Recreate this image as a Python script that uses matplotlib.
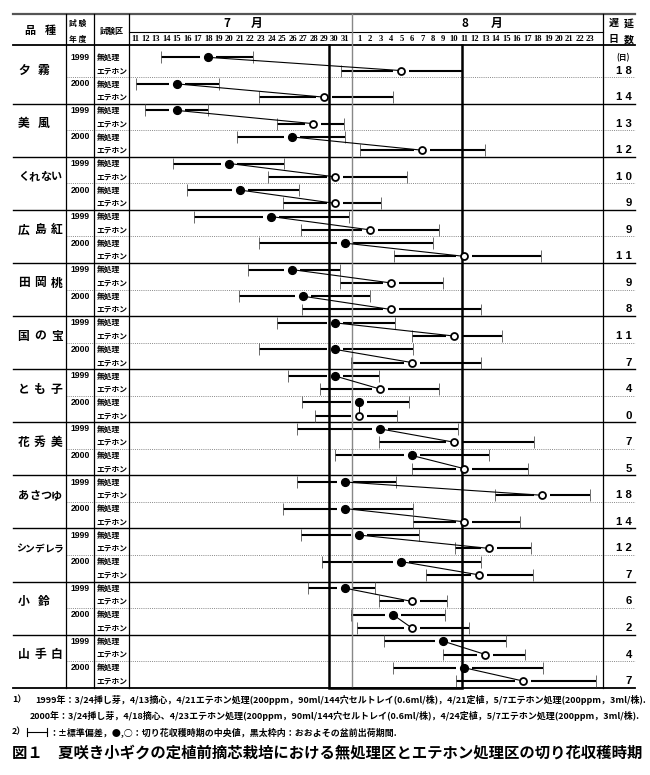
import numpy as np
import matplotlib
matplotlib.use('Agg')
import matplotlib.pyplot as plt

plt.rcParams['font.family'] = ['Noto Sans CJK JP', 'DejaVu Sans']

# ---------------- data ----------------
# season day: July d -> d, August d -> 31 + d
varieties = ['夕霧', '美風', 'くれない', '広島紅', '田岡桃', '国の宝', 'とも子',
             '花秀美', 'あさつゆ', 'シンデレラ', '小鈴', '山手白']
years = ['1999', '2000']
treatments = ['無処理', 'エテホン']

ctrl_low = [[13.5, 11.1], [12.0, 20.7], [14.65, 16.0], [16.6, 22.8], [21.8, 20.9],
            [24.5, 22.8], [25.6, 26.9], [26.4, 30.0], [26.4, 25.1], [26.8, 28.8],
            [27.5, 31.4], [34.3, 35.2]]
ctrl_med = [[18, 15], [15, 26], [20, 21], [24, 31], [26, 27], [30, 30], [30, 32],
            [34, 37], [31, 31], [32, 36], [31, 35.2], [40, 42]]
ctrl_high = [[22.2, 19.0], [18.0, 31.0], [25.2, 26.6], [31.25, 39.0], [30.5, 33.0],
             [35.4, 37.1], [33.9, 36.75], [41.4, 44.3], [35.5, 37.1], [37.7, 43.6],
             [33.5, 40.15], [46.0, 49.5]]
eth_low = [[30.6, 22.8], [24.5, 32.05], [23.7, 25.1], [26.8, 35.3], [30.5, 26.9],
           [37.0, 31.4], [28.65, 28.1], [33.9, 37.0], [44.9, 37.1], [41.1, 38.3],
           [33.9, 31.85], [40.0, 41.2]]
eth_med = [[36, 29], [28, 38], [30, 30], [33, 42], [35, 35], [41, 37], [34, 32],
           [41, 42], [49.4, 42], [44.3, 43.4], [37, 37], [44, 47.6]]
eth_high = [[41.8, 35.2], [30.9, 44.0], [36.55, 34.1], [39.6, 49.3], [40.0, 43.6],
            [45.6, 43.6], [39.6, 35.6], [48.6, 48.1], [54.0, 47.3], [48.3, 48.5],
            [40.3, 42.4], [47.8, 54.5]]
delay_days = [[18, 14], [13, 12], [10, 9], [9, 11], [9, 8], [11, 7], [4, 0],
              [7, 5], [18, 14], [12, 7], [6, 2], [4, 7]]

july_days = list(range(11, 32))
aug_days = list(range(1, 24))
obon_start, obon_end = 29.5, 41.8
month_sep = 31.5

fn1_num = '1）'
fn1 = '1999年：3/24挿し芽，4/13摘心，4/21エテホン処理(200ppm，90ml/144穴セルトレイ(0.6ml/株)，4/21定植，5/7エテホン処理(200ppm，3ml/株).'
fn2 = '2000年：3/24挿し芽，4/18摘心、4/23エテホン処理(200ppm，90ml/144穴セルトレイ(0.6ml/株)，4/24定植，5/7エテホン処理(200ppm，3ml/株).'
fn3_num = '2）'
fn3 = '：±標準偏差，●,○：切り花収穫時期の中央値，黒太枠内：おおよその盆前出荷期間.'
title = '図１　夏咲き小ギクの定植前摘芯栽培における無処理区とエテホン処理区の切り花収穫時期'

# ---------------- layout ----------------
W, H = 650, 775
fig = plt.figure(figsize=(W / 100, H / 100), dpi=100)
ov = fig.add_axes([0, 0, 1, 1])
ov.set_xlim(0, W)
ov.set_ylim(H, 0)
ov.axis('off')

TL, TR = 13, 635
C1, C2, C3, C4 = 65.7, 94.3, 129.3, 602.5
YT, YM, YH, YB = 14, 32.3, 45, 687.7
TOP_PAD = 0.43
ROW_PX = (YB - YH) / (48 + TOP_PAD)


def row_px(r):
    return YH + (r + TOP_PAD) * ROW_PX


GAP = 0.37


def fwd(v):
    v = np.asarray(v, float)
    return v + GAP * np.clip(v - 31, 0, 1)


def inv(x):
    x = np.asarray(x, float)
    return np.where(x <= 31, x, np.where(x <= 32 + GAP, 31 + (x - 31) / (1 + GAP), x - GAP))


ax = fig.add_axes([C3 / W, 1 - YB / H, (C4 - C3) / W, (YB - YH) / H])
ax.set_zorder(2)
ax.patch.set_visible(False)
ax.set_xscale('function', functions=(fwd, inv))
ax.set_xlim(10.46, 55.15)
ax.set_ylim(48, -TOP_PAD)
for s in ax.spines.values():
    s.set_visible(False)
ax.set_yticks([])
ticks = july_days + [31 + d for d in aug_days]
labels = [str(d) for d in july_days] + [str(d) for d in aug_days]
ax.xaxis.tick_top()
ax.set_xticks(ticks)
ax.set_xticklabels(labels, fontfamily='Liberation Serif', fontweight='bold', fontsize=6.2)
ax.tick_params(axis='x', length=0, pad=1.6)
ax.minorticks_off()

# table lines
ov.plot([TL, TR], [YT, YT], color='#555555', lw=1.6)
ov.plot([C3, C4], [YM, YM], color='black', lw=0.8)
ov.plot([TL, TR], [YH, YH], color='black', lw=1.3)
ov.plot([TL, TR], [YB, YB], color='black', lw=1.3)
for k in range(1, 12):
    y = row_px(4 * k)
    ov.plot([TL, TR], [y, y], color='black', lw=1.0)
for k in range(12):
    y = row_px(4 * k + 2)
    ov.plot([C1, TR], [y, y], color='#888888', lw=0.7, ls=(0, (1, 1.2)))
for x in [C1, C2, C3, C4]:
    ov.plot([x, x], [YT, YB], color='black', lw=0.9)

# month separator and Obon frame
ytop = (YT - YH) / ROW_PX - TOP_PAD
ax.plot([month_sep, month_sep], [48, ytop], color='#888888', lw=1.0, clip_on=False, zorder=4)
ax.plot([obon_start, obon_start, obon_end, obon_end], [-TOP_PAD, 48, 48, -TOP_PAD],
        color='black', lw=1.8, clip_on=False, zorder=4, solid_joinstyle='miter')

# header texts
bold = dict(fontweight='bold', ha='center', va='center')
ov.text(30, 30.5, '品', fontsize=8, **bold)
ov.text(50, 30.5, '種', fontsize=8, **bold)
ov.text(77.5, 23.5, '試 験', fontsize=5.6, **bold)
ov.text(77.5, 39.3, '年 度', fontsize=5.6, **bold)
ov.text(111.7, 31, '試験区', fontsize=5.8, **bold)
ov.text(226.7, 23.3, '7', fontsize=8.5, **bold)
ov.text(256.7, 23.3, '月', fontsize=8.5, **bold)
ov.text(465, 23.3, '8', fontsize=8.5, **bold)
ov.text(496.7, 23.3, '月', fontsize=8.5, **bold)
ov.text(613.5, 23.3, '遅', fontsize=7.2, **bold)
ov.text(628.5, 23.3, '延', fontsize=7.2, **bold)
ov.text(613.5, 39.3, '日', fontsize=7.2, **bold)
ov.text(628.5, 39.3, '数', fontsize=7.2, **bold)
ov.text(623.5, row_px(0.5), '(日)', fontsize=5.5, **bold)

# row texts
for k, name in enumerate(varieties):
    n = len(name)
    yname = row_px(4 * k + 1.5)
    if n == 2:
        xs = [24, 44]
        fs = 8.5
    else:
        right = 62 if n < 5 else 63
        left = 18 if n < 5 else 16
        cw = 11 if n < 5 else 9.3
        xs = [left + cw / 2 + i * (right - left - cw) / (n - 1) for i in range(n)]
        fs = 8.5 if n == 3 else (8 if n == 4 else 7)
    for ch, x in zip(name, xs):
        ov.text(x, yname, ch, fontsize=fs, **bold)
    for j, yr in enumerate(years):
        r0 = 4 * k + 2 * j
        ov.text(80, row_px(r0 + 0.5), yr, fontsize=6.2, fontfamily='Liberation Sans',
                fontweight='bold', ha='center', va='center')
        for t, tr in enumerate(treatments):
            ov.text(96.5, row_px(r0 + t + 0.5), tr, fontsize=5.6, fontweight='bold',
                    ha='left', va='center')
        ov.text(632, row_px(r0 + 1.5), ' '.join(str(delay_days[k][j])), fontsize=8.2,
                fontfamily='Liberation Sans', fontweight='bold', ha='right', va='center')

# chart marks
for k in range(12):
    for j in range(2):
        yu = 4 * k + 2 * j + 0.5
        ye = yu + 1
        for y, lo, hi in [(yu, ctrl_low[k][j], ctrl_high[k][j]),
                          (ye, eth_low[k][j], eth_high[k][j])]:
            ax.hlines(y, lo, hi, color='black', lw=1.5, zorder=2)
            ax.vlines([lo, hi], y - 0.45, y + 0.45, color='#555555', lw=0.6, zorder=2)
        mu, me = ctrl_med[k][j], eth_med[k][j]
        ax.plot([mu, me], [yu, ye], ls='none', marker='_', ms=11, mew=3.2,
                color='white', zorder=3)
        ax.plot([mu, me], [yu, ye], color='black', lw=0.8, zorder=5)
        ax.plot([mu], [yu], ls='none', marker='o', ms=5.6, mfc='black', mec='black',
                zorder=6)
        ax.plot([me], [ye], ls='none', marker='o', ms=5.0, mfc='white', mec='black',
                mew=1.3, zorder=6)

# footnotes
renderer = fig.canvas.get_renderer()


def fit_text(x0, x1, y, s, size0, **kw):
    t = ov.text(x0, y, s, fontsize=size0, ha='left', va='center', **kw)
    bb = t.get_window_extent(renderer=renderer)
    t.set_fontsize(size0 * (x1 - x0) / bb.width)
    return t


t1 = fit_text(35, 643, 700, fn1, 6.5, fontweight='bold')
fs_fn = t1.get_fontsize()
ov.text(12, 700, fn1_num, fontsize=fs_fn, fontweight='bold', ha='left', va='center')
ov.text(30, 716, fn2, fontsize=fs_fn, fontweight='bold', ha='left', va='center')
ov.text(12, 732, fn3_num, fontsize=fs_fn, fontweight='bold', ha='left', va='center')
ov.plot([27, 47], [732, 732], color='black', lw=0.8)
ov.plot([27, 27], [728, 736], color='black', lw=0.8)
ov.plot([47, 47], [728, 736], color='black', lw=0.8)
ov.text(49, 732, fn3, fontsize=fs_fn, fontweight='bold', ha='left', va='center')
fit_text(12, 641, 752, title, 11, fontweight='bold')

fig.savefig('out.png', dpi=100)
